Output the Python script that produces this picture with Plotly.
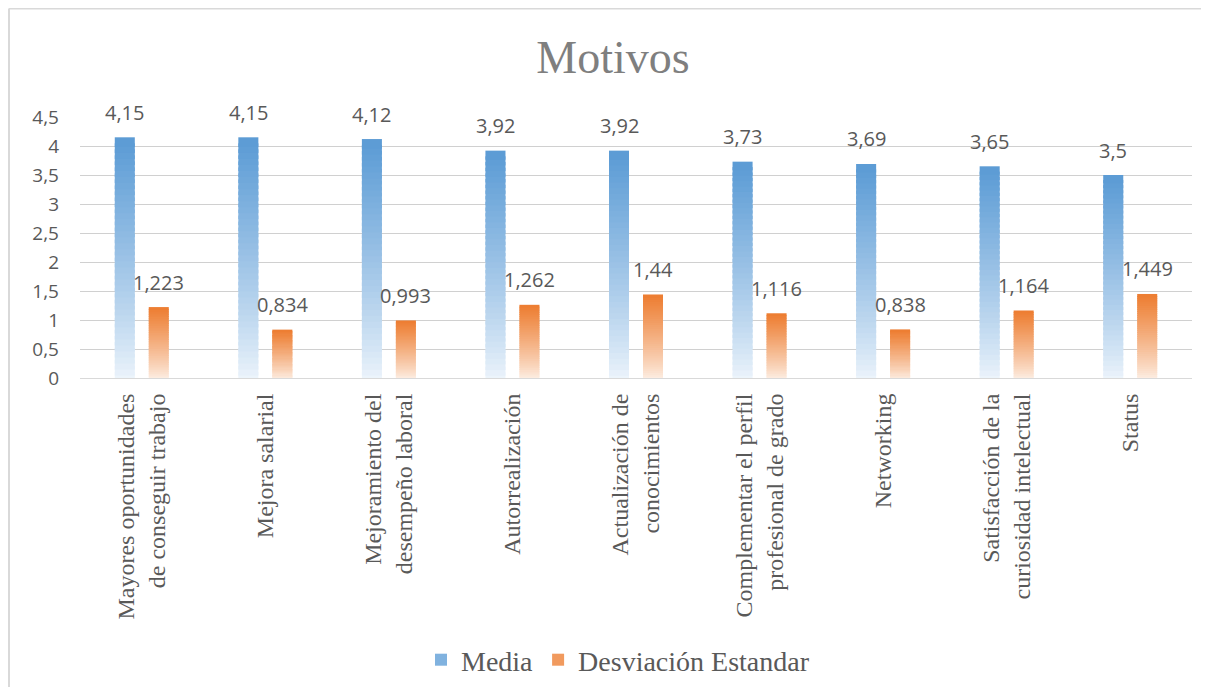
import plotly.graph_objects as go

categories = [
    "Mayores oportunidades<br>de conseguir trabajo",
    "Mejora salarial",
    "Mejoramiento del<br>desempeño laboral",
    "Autorrealización",
    "Actualización de<br>conocimientos",
    "Complementar el perfil<br>profesional de grado",
    "Networking",
    "Satisfacción de la<br>curiosidad intelectual",
    "Status",
]
media = [4.15, 4.15, 4.12, 3.92, 3.92, 3.73, 3.69, 3.65, 3.5]
desviacion = [1.223, 0.834, 0.993, 1.262, 1.44, 1.116, 0.838, 1.164, 1.449]
y_ticks = [0, 0.5, 1, 1.5, 2, 2.5, 3, 3.5, 4, 4.5]

OFF = 8  # the page body adds an 8px margin around the figure
W, H = 1209 - 2 * OFF, 695 - 2 * OFF  # keep the page from overflowing the window
margin = dict(l=80 - OFF, r=W - (1192 - OFF), t=117 - OFF, b=H - (378 - OFF))
plot_w = W - margin["l"] - margin["r"]
plot_h = H - margin["t"] - margin["b"]
bargap = 0.45
slot_px = plot_w / len(categories) * (1 - bargap) / 2

N_SEG = 40  # bars are drawn as stacked slices to fake the gradient fill


def mix(top_rgb, bottom_rgb, f):
    # f = 0 at the bottom of a bar, 1 at the top
    w = f ** 0.85
    return "rgb({},{},{})".format(*[round(b + (t - b) * w) for t, b in zip(top_rgb, bottom_rgb)])


series = [
    ("Media", media, (91, 155, 213), (240, 246, 252), "m"),
    ("Desviación Estandar", desviacion, (237, 125, 49), (253, 240, 230), "d"),
]

fig = go.Figure()
for name, vals, top, bottom, grp in series:
    for k in range(N_SEG):
        lo = max(k - 0.6, 0)  # overlap the slice below so no seams show
        fig.add_trace(go.Bar(
            x=categories,
            y=[v * (k + 1 - lo) / N_SEG for v in vals],
            base=[v * lo / N_SEG for v in vals],
            offsetgroup=grp,
            legendgroup=grp,
            name=name,
            showlegend=(k == int(N_SEG * 0.7)),
            marker=dict(color=mix(top, bottom, (k + 0.5) / N_SEG), line=dict(width=0)),
            hoverinfo="skip",
        ))

label_font = dict(family="Open Sans", size=20, color="#595959")
annotations = []
for (name, vals, top, bottom, grp), sign in zip(series, (-1, 1)):
    for c, v in zip(categories, vals):
        annotations.append(dict(
            x=c, y=v, xref="x", yref="y",
            text=str(v).replace(".", ","),
            showarrow=False, yanchor="middle",
            xshift=sign * slot_px / 2, yshift=25,
            font=label_font,
        ))

# chart frame: only its top and left edges are inside the image
px_x = lambda px: (px - OFF - margin["l"]) / plot_w
px_y = lambda py: (H - margin["b"] - (py - OFF)) / plot_h
frame = dict(color="#d9d9d9", width=2)
shapes = [
    dict(type="line", xref="paper", yref="paper", layer="below", line=frame,
         x0=px_x(9), x1=px_x(9), y0=px_y(700), y1=px_y(8.5)),
    dict(type="line", xref="paper", yref="paper", layer="below", line=frame,
         x0=px_x(9), x1=px_x(1215), y0=px_y(8.5), y1=px_y(8.5)),
]

fig.update_layout(
    width=W, height=H,
    barmode="group",
    bargap=bargap,
    bargroupgap=0.41,
    separators=",.",
    paper_bgcolor="white",
    plot_bgcolor="white",
    margin=margin,
    title=dict(
        text="Motivos", x=(613 - OFF) / W, xref="container", y=1 - (57 - OFF) / H, yref="container",
        xanchor="center", yanchor="middle",
        font=dict(family="Liberation Serif", size=46, color="#7f7f7f"),
    ),
    legend=dict(
        orientation="h", x=(618 - OFF) / W, xref="container", xanchor="center",
        y=1 - (660 - OFF) / H, yref="container", yanchor="middle",
        font=dict(family="Liberation Serif", size=28, color="#595959"),
        itemwidth=30, tracegroupgap=0,
    ),
    annotations=annotations,
    shapes=shapes,
)
fig.update_xaxes(
    type="category",
    tickangle=-90,
    tickfont=dict(family="Liberation Serif", size=24, color="#595959"),
    showline=True, linecolor="#d9d9d9", linewidth=1,
    ticklabelstandoff=5,
)
fig.update_yaxes(
    range=[0, 4.5],
    tickvals=y_ticks,
    tickfont=dict(family="Open Sans", size=19, color="#595959"),
    showgrid=True, gridcolor="#d0d0d0", gridwidth=1,
    zeroline=False,
    ticklabelstandoff=20,
)

fig.write_html("out.html")
